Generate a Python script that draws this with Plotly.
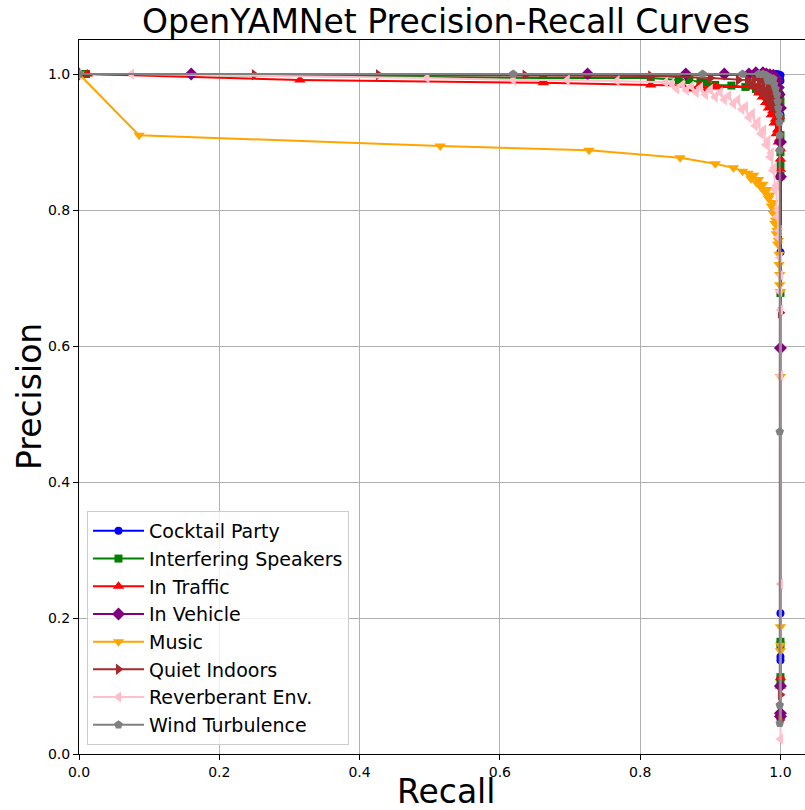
import plotly.graph_objects as go

# ---------------- data ----------------
series_names = ["Cocktail Party", "Interfering Speakers", "In Traffic", "In Vehicle",
                "Music", "Quiet Indoors", "Reverberant Env.", "Wind Turbulence"]

cocktail_recall = [0.0, 0.99, 0.995, 0.998, 1.0, 1.0, 1.0, 1.0, 1.0, 1.0, 1.0, 1.0, 1.0, 1.0]
cocktail_precision = [1.0, 1.0, 1.0, 0.999, 0.998, 0.99, 0.97, 0.94, 0.738, 0.207, 0.143, 0.138, 0.06, 0.052]

interfering_recall = [0.0, 0.01, 0.662, 0.815, 0.855, 0.87, 0.886, 0.895, 0.907, 0.93, 0.95, 0.965, 0.975, 0.985, 0.99, 0.995, 0.998,
                      1.0, 1.0, 1.0, 1.0, 1.0, 1.0, 1.0, 1.0, 1.0, 1.0, 1.0]
interfering_precision = [1.0, 1.0, 0.994, 0.994, 0.991, 0.991, 0.988, 0.987, 0.984, 0.983, 0.981, 0.978, 0.975, 0.97, 0.985, 0.98, 0.97,
                         0.96, 0.935, 0.91, 0.885, 0.866, 0.85, 0.678, 0.165, 0.16, 0.113, 0.108]

traffic_recall = [0.0, 0.012, 0.315, 0.662, 0.815, 0.86, 0.875, 0.885, 0.895, 0.905, 0.91, 0.967, 0.969, 0.972, 0.974, 0.977, 0.979, 0.981,
                  0.983, 0.985, 0.987, 0.989, 0.991, 0.993, 0.994, 0.996, 0.997, 0.999, 1.0, 1.0, 1.0, 1.0, 1.0]
traffic_precision = [1.0, 1.0, 0.991, 0.987, 0.984, 0.983, 0.978, 0.984, 0.977, 0.982, 0.981, 0.981, 0.972, 0.978, 0.966, 0.972, 0.958, 0.965,
                     0.95, 0.956, 0.94, 0.946, 0.928, 0.934, 0.912, 0.918, 0.9, 0.905, 0.89, 0.875, 0.86, 0.112, 0.1]

vehicle_recall = [0.0, 0.16, 0.725, 0.865, 0.92, 0.955, 0.965, 0.975, 0.98, 0.985, 0.99, 0.993, 0.995, 0.997, 0.998,
                  1.0, 1.0, 1.0, 1.0, 1.0, 1.0, 1.0]
vehicle_precision = [1.0, 1.0, 1.0, 1.0, 1.0, 1.0, 1.002, 1.002, 1.0, 0.999, 0.998, 0.995, 0.99, 0.98, 0.97,
                     0.95, 0.9, 0.849, 0.597, 0.1, 0.06, 0.055]

music_recall = [0.0, 0.0856, 0.515, 0.727, 0.857, 0.907, 0.933, 0.946, 0.954, 0.958, 0.962, 0.966, 0.969, 0.972, 0.975, 0.978,
                0.981, 0.983, 0.985, 0.987, 0.989, 0.990, 0.991, 0.992, 0.993, 0.994, 0.995, 0.996, 0.997, 0.998, 0.998,
                0.999, 0.999, 1.0, 1.0, 1.0, 1.0, 1.0]
music_precision = [1.0, 0.910, 0.894, 0.888, 0.877, 0.868, 0.862, 0.857, 0.854, 0.846, 0.851, 0.840, 0.845, 0.834, 0.838, 0.826,
                   0.830, 0.817, 0.822, 0.806, 0.811, 0.795, 0.800, 0.780, 0.785, 0.765, 0.770, 0.750, 0.755, 0.735, 0.720,
                   0.705, 0.690, 0.680, 0.555, 0.187, 0.160, 0.152]

quiet_recall = [0.0, 0.25, 0.427, 0.636, 0.815, 0.9, 0.94, 0.953, 0.958, 0.962, 0.966, 0.97, 0.973, 0.976, 0.979, 0.982, 0.984,
                0.987, 0.989, 0.991, 0.993, 0.995, 0.996, 0.998, 1.0, 1.0, 1.0, 1.0]
quiet_precision = [1.0, 0.999, 0.999, 0.998, 0.997, 0.994, 0.991, 0.991, 0.984, 0.992, 0.978, 0.99, 0.972, 0.988, 0.965, 0.985, 0.958,
                   0.98, 0.952, 0.975, 0.946, 0.968, 0.94, 0.96, 0.935, 0.649, 0.087, 0.05]

reverb_recall = [0.0, 0.075, 0.496, 0.619, 0.696, 0.767, 0.836, 0.845, 0.852, 0.86, 0.866, 0.873, 0.88, 0.886, 0.893, 0.9, 0.907,
                 0.914, 0.92, 0.926, 0.933, 0.939, 0.945, 0.95, 0.955, 0.96, 0.964, 0.968, 0.972, 0.976, 0.979, 0.982, 0.985,
                 0.987, 0.989, 0.991, 0.992, 0.994, 0.995, 0.996, 0.997, 0.998, 0.999, 1.0, 0.999, 1.0, 1.0, 1.0, 1.0]
reverb_precision = [1.0, 1.0, 0.994, 0.991, 0.991, 0.990, 0.988, 0.986, 0.978, 0.984, 0.976, 0.982, 0.973, 0.980, 0.970, 0.977, 0.966,
                    0.973, 0.962, 0.968, 0.956, 0.962, 0.948, 0.952, 0.936, 0.942, 0.924, 0.930, 0.912, 0.918, 0.896, 0.902, 0.878,
                    0.884, 0.858, 0.862, 0.830, 0.836, 0.790, 0.800, 0.760, 0.770, 0.730, 0.704, 0.680, 0.653, 0.557, 0.250, 0.022]

wind_recall = [0.0, 0.619, 0.889, 0.946, 0.969, 0.975, 0.98, 0.982, 0.985, 0.988, 0.99, 0.991, 0.993, 0.995, 0.996, 0.997, 0.998,
               0.9986, 0.999, 0.999, 0.999, 0.999, 0.999]
wind_precision = [1.0, 1.0, 1.0, 1.0, 1.0, 1.0, 0.998, 0.99, 0.995, 0.99, 0.993, 0.985, 0.978, 0.97, 0.96, 0.95, 0.94,
                  0.929, 0.91, 0.888, 0.474, 0.072, 0.045]

all_recall = [cocktail_recall, interfering_recall, traffic_recall, vehicle_recall,
              music_recall, quiet_recall, reverb_recall, wind_recall]
all_precision = [cocktail_precision, interfering_precision, traffic_precision, vehicle_precision,
                 music_precision, quiet_precision, reverb_precision, wind_precision]

colors = ["blue", "green", "red", "purple", "orange", "brown", "pink", "gray"]
symbols = ["circle", "square", "triangle-up", "diamond", "triangle-down", "triangle-right", "triangle-left", "pentagon"]
marker_sizes = [8, 8, 10, 10, 10, 10, 10, 9]

x_ticks = [0.0, 0.2, 0.4, 0.6, 0.8, 1.0]
y_ticks = [0.0, 0.2, 0.4, 0.6, 0.8, 1.0]

FONT = "DejaVu Sans"

fig = go.Figure()
for i, name in enumerate(series_names):
    fig.add_trace(go.Scatter(
        x=all_recall[i], y=all_precision[i], mode="lines+markers", name=name,
        legendgroup=name,
        line=dict(color=colors[i], width=2),
        marker=dict(symbol=symbols[i], size=marker_sizes[i], color=colors[i], line=dict(width=0)),
    ))

plot_l, plot_w, plot_t, plot_h = 79, 726, 40, 714

fig.update_layout(
    width=805, height=810,
    margin=dict(l=79, r=0, t=40, b=56),
    paper_bgcolor="white", plot_bgcolor="white",
    font=dict(family=FONT, color="black"),
    showlegend=True,
    title=dict(text="OpenYAMNet Precision-Recall Curves", font=dict(size=33, family=FONT, color="black"),
               x=446 / 805, xanchor="center", xref="container",
               y=1 - 21 / 810, yanchor="middle", yref="container"),
    legend=dict(x=0.011, y=0.0126, xanchor="left", yanchor="bottom",
                bgcolor="rgba(255,255,255,0.8)", bordercolor="#cccccc", borderwidth=1,
                font=dict(size=19, family=FONT, color="black"), tracegroupgap=0,
                itemwidth=51),
    xaxis=dict(range=[0, 1.035], tickvals=x_ticks, ticktext=[f"{v:.1f}" for v in x_ticks],
               showgrid=True, gridcolor="#b0b0b0", gridwidth=1,
               showline=True, linecolor="black", linewidth=1, mirror=True,
               ticks="outside", ticklen=5, tickcolor="black", tickwidth=1,
               tickfont=dict(size=14, family=FONT, color="black"), zeroline=False),
    yaxis=dict(range=[0, 1.05], tickvals=y_ticks, ticktext=[f"{v:.1f}" for v in y_ticks],
               showgrid=True, gridcolor="#b0b0b0", gridwidth=1,
               showline=True, linecolor="black", linewidth=1,
               ticks="outside", ticklen=5, tickcolor="black", tickwidth=1,
               tickfont=dict(size=14, family=FONT, color="black"), zeroline=False),
    annotations=[
        dict(text="Recall", x=(446 - plot_l) / plot_w, y=(754 - 791) / plot_h, xref="paper", yref="paper",
             showarrow=False, font=dict(size=33, family=FONT, color="black"),
             xanchor="center", yanchor="middle"),
        dict(text="Precision", x=(29 - plot_l) / plot_w, y=(754 - 397) / plot_h, xref="paper", yref="paper",
             showarrow=False, textangle=-90, font=dict(size=33, family=FONT, color="black"),
             xanchor="center", yanchor="middle"),
    ],
)

fig.write_html("out.html")
